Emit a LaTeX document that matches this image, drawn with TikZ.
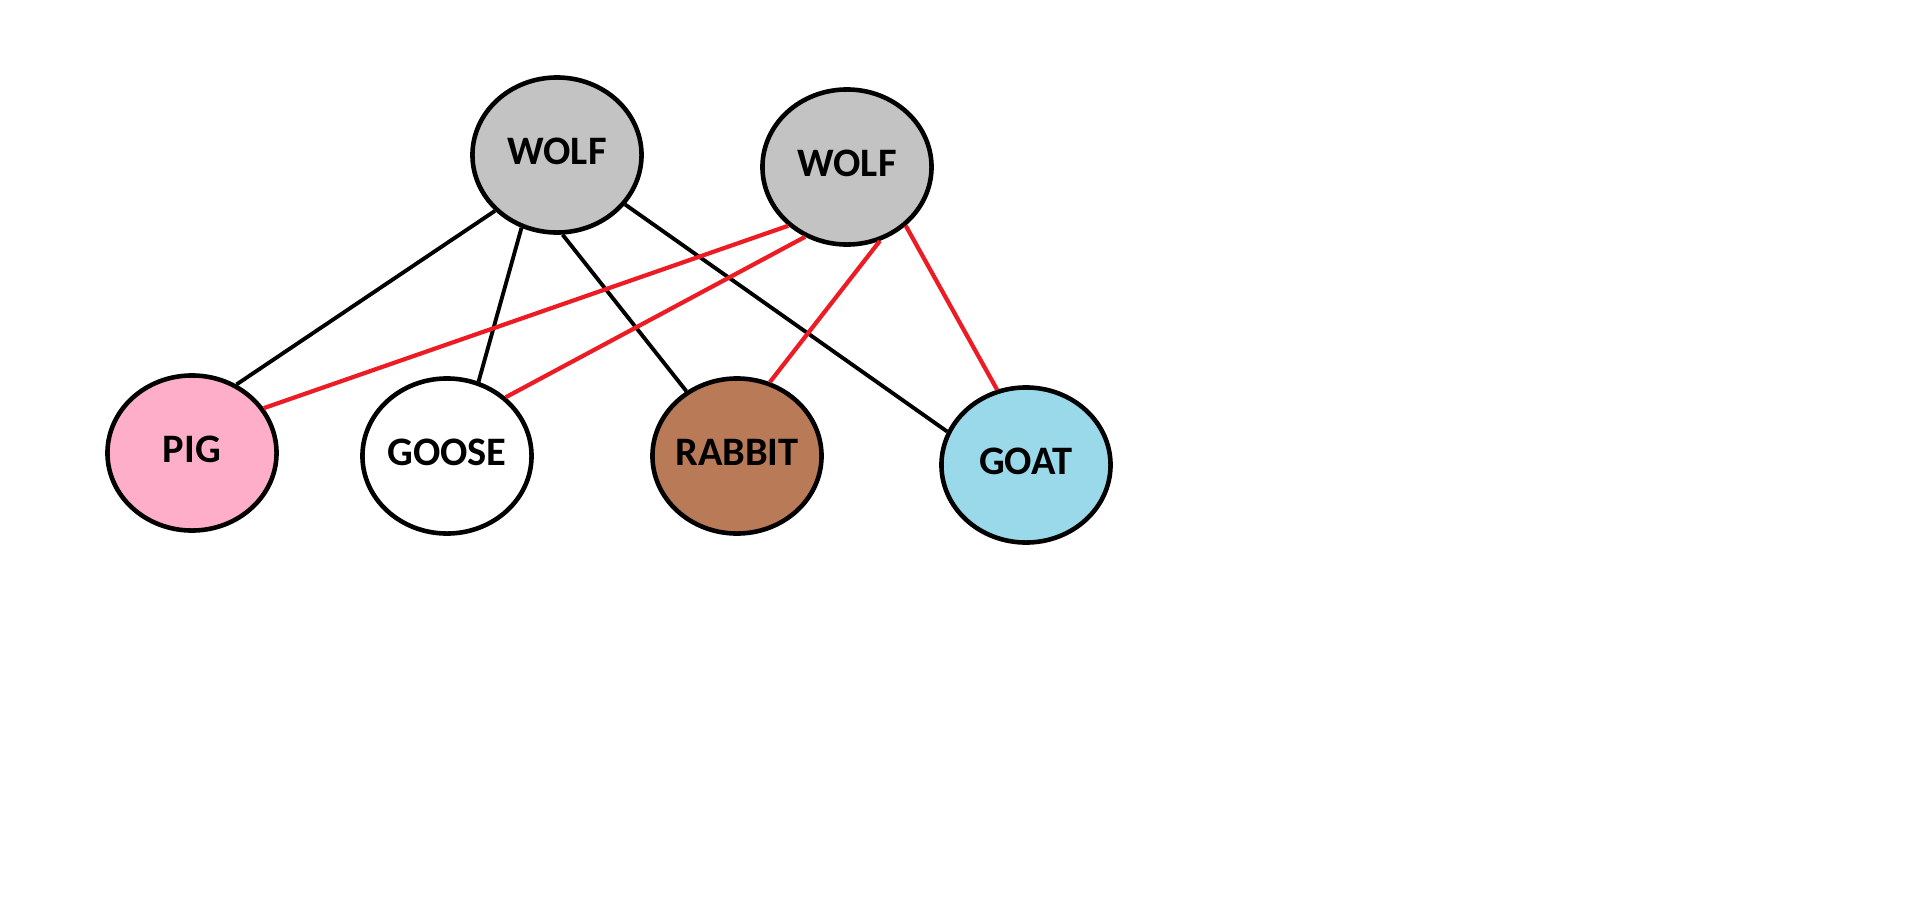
\documentclass[tikz,border=0pt]{standalone}
\usepackage{fontspec}
\setmainfont{Carlito}
\usetikzlibrary{shapes.geometric}
\definecolor{wolfgray}{RGB}{195,195,195}
\definecolor{pigpink}{RGB}{255,174,201}
\definecolor{rabbitbrown}{RGB}{185,122,87}
\definecolor{goatblue}{RGB}{153,217,234}
\definecolor{edgered}{RGB}{237,28,36}
\tikzset{
  animal/.style={ellipse,draw=black,line width=1.3pt,inner ysep=0pt,inner xsep=-0.08cm,
    minimum width=1.69cm,minimum height=1.55cm,text depth=0.08cm,
    font=\fontsize{11.5}{13}\selectfont\bfseries},
  blackedge/.style={black,line width=1.1pt},
  rededge/.style={edgered,line width=1.2pt}
}
\begin{document}
\begin{tikzpicture}[x=0.01cm,y=-0.01cm]
\useasboundingbox (0,0) rectangle (1914,903);
% top row
\node[animal,fill=wolfgray] (wolfa) at (557,155) {WOLF};
\node[animal,fill=wolfgray] (wolfb) at (847,167) {WOLF};
% bottom row
\node[animal,fill=pigpink] (pig) at (192,453) {PIG};
\node[animal,fill=white] (goose) at (447,456) {GOOSE};
\node[animal,fill=rabbitbrown] (rabbit) at (737,456) {RABBIT};
\node[animal,fill=goatblue] (goat) at (1026,465) {GOAT};
% black edges from first wolf
\draw[blackedge] (wolfa.-138) -- (pig.57);
\draw[blackedge] (wolfa.-116) -- (goose.67);
\draw[blackedge] (wolfa.-86) -- (rabbit.128);
\draw[blackedge] (wolfa.-36) -- (goat.157);
% red edges from second wolf
\draw[rededge] (wolfb.-135) -- (pig.32);
\draw[rededge] (wolfb.-121) -- (goose.45);
\draw[rededge] (wolfb.-66) -- (rabbit.66);
\draw[rededge] (wolfb.-45) -- (goat.111);
\end{tikzpicture}
\end{document}
